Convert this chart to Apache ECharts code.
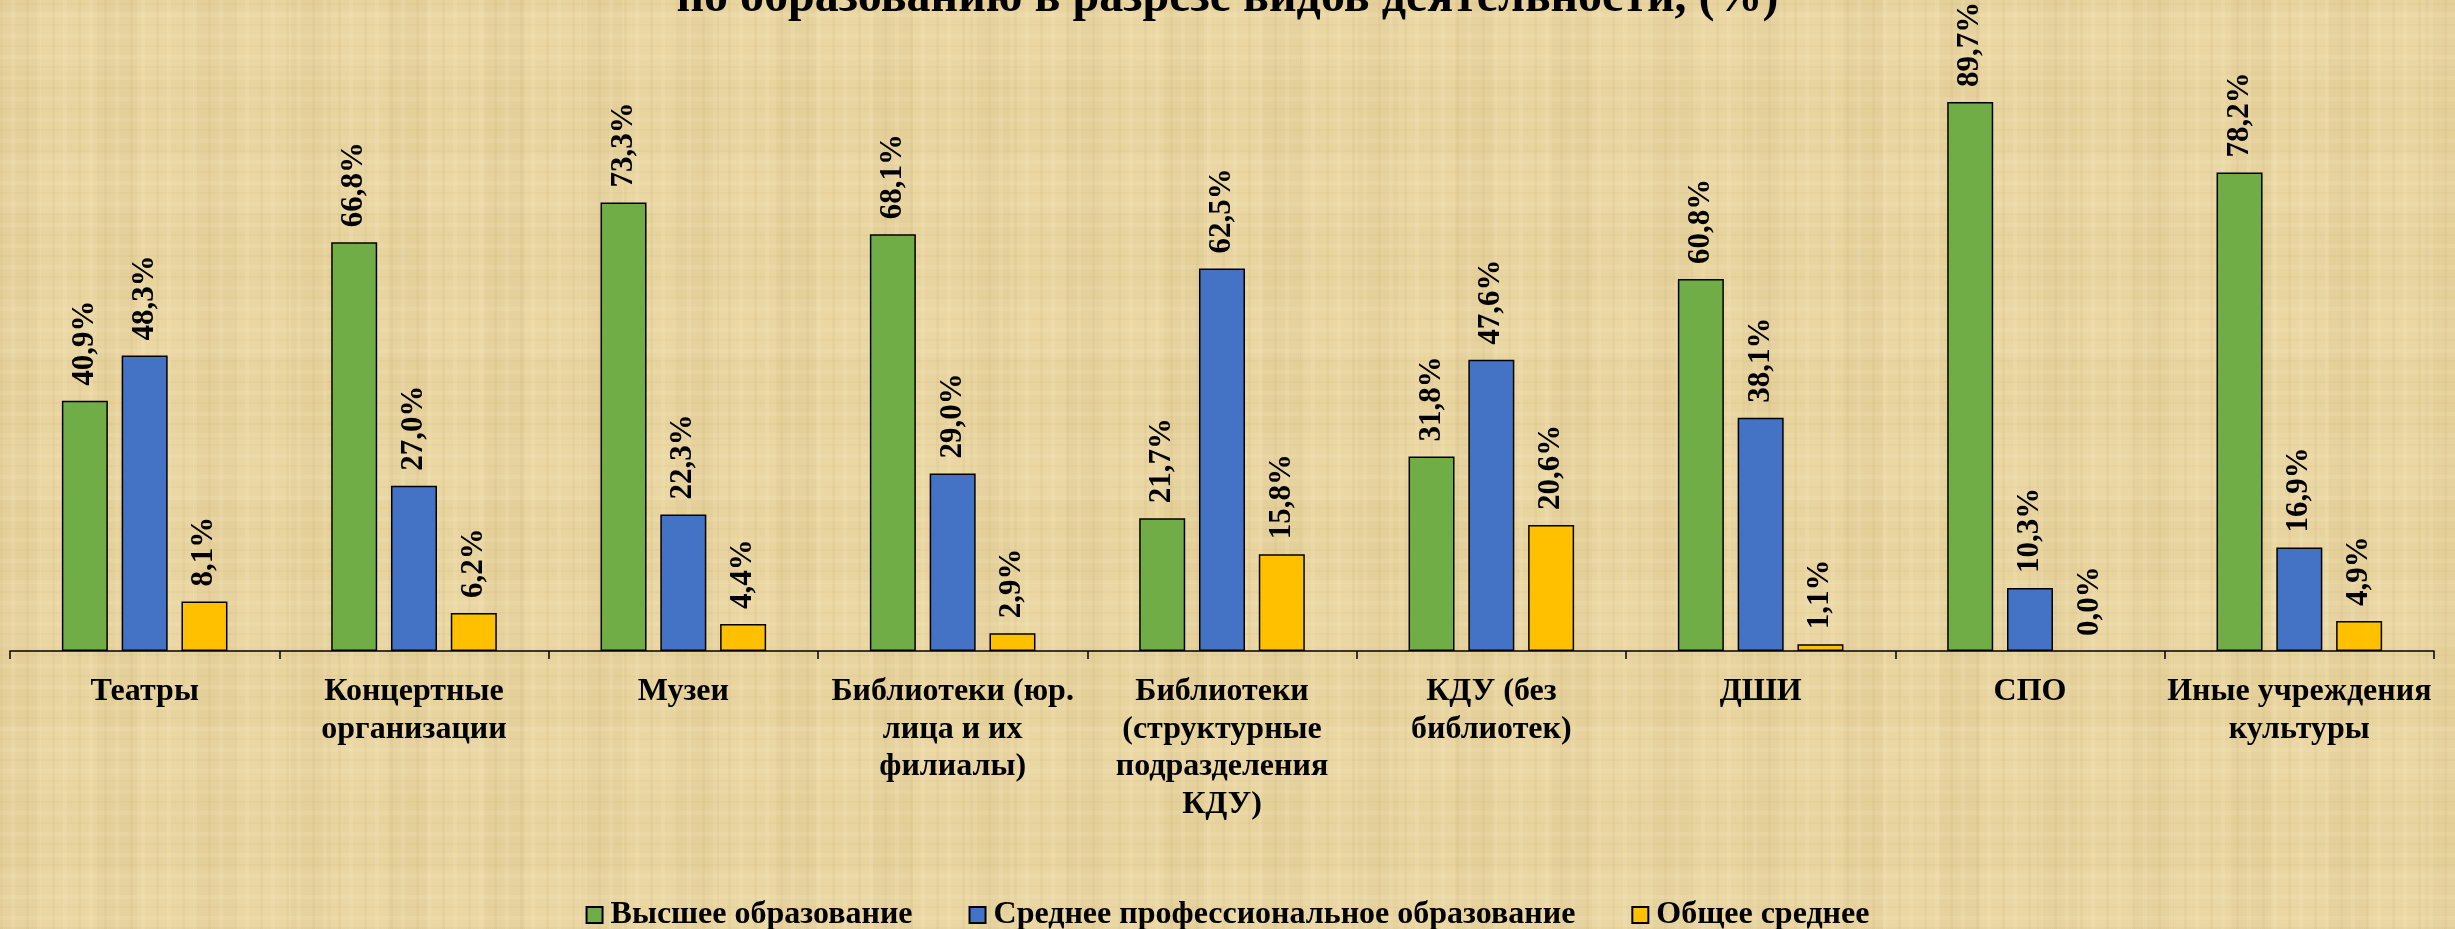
<!DOCTYPE html>
<html>
<head>
<meta charset="utf-8">
<script src="https://cdn.jsdelivr.net/npm/echarts@6/dist/echarts.min.js"></script>
<style>
html,body{margin:0;padding:0;}
#chart{
  width:2455px;height:929px;
  background-color:#E8D49F;
  background-image:
    repeating-linear-gradient(90deg, rgba(150,110,40,0.05) 0 3px, transparent 3px 11px, rgba(255,246,215,0.12) 11px 15px, transparent 15px 26px),
    repeating-linear-gradient(0deg, rgba(150,110,40,0.04) 0 2px, transparent 2px 9px, rgba(255,246,215,0.10) 9px 13px, transparent 13px 21px),
    repeating-linear-gradient(90deg, rgba(140,100,30,0.04) 0 40px, transparent 40px 97px),
    repeating-linear-gradient(0deg, rgba(255,246,215,0.08) 0 60px, transparent 60px 143px);
}
</style>
</head>
<body>
<div id="chart"></div>
<script>
const categories = [
  "Театры",
  "Концертные\nорганизации",
  "Музеи",
  "Библиотеки (юр.\nлица и их\nфилиалы)",
  "Библиотеки\n(структурные\nподразделения\nКДУ)",
  "КДУ (без\nбиблиотек)",
  "ДШИ",
  "СПО",
  "Иные учреждения\nкультуры"
];
const seriesNames = ["Высшее образование", "Среднее профессиональное образование", "Общее среднее"];
const higher = [40.9, 66.8, 73.3, 68.1, 21.7, 31.8, 60.8, 89.7, 78.2];
const vocational = [48.3, 27.0, 22.3, 29.0, 62.5, 47.6, 38.1, 10.3, 16.9];
const general = [8.1, 6.2, 4.4, 2.9, 15.8, 20.6, 1.1, 0.0, 4.9];
const titleText = "по образованию в разрезе видов деятельности, (%)";

const colors = ["#70AD47", "#4472C4", "#FFC000"];
const FONT = "'Liberation Serif','Times New Roman',serif";

function mk(name, data, color){
  return {
    name: name,
    type: 'bar',
    data: data.map(v => v === 0 ? {value: v, itemStyle: {borderWidth: 0}} : v),
    barWidth: 46,
    barGap: '30%',
    itemStyle: {color: color, borderColor: '#000', borderWidth: 1.5},
    label: {
      show: true,
      position: 'top',
      rotate: 90,
      align: 'left',
      verticalAlign: 'middle',
      distance: 15,
      fontFamily: FONT,
      fontWeight: 'bold',
      fontSize: 31,
      color: '#000',
      formatter: p => p.value.toFixed(1).replace('.', ',') + '%'
    }
  };
}

const chart = echarts.init(document.getElementById('chart'), null, {renderer: 'canvas'});
chart.setOption({
  backgroundColor: 'transparent',
  animation: false,
  graphic: [{
    type: 'text',
    left: 'center',
    top: -25,
    style: {
      text: titleText,
      fontFamily: FONT,
      fontWeight: 'bold',
      fontSize: 48,
      lineHeight: 48,
      fill: '#000'
    }
  }],
  legend: {
    data: seriesNames,
    left: 'center',
    top: 893,
    itemWidth: 16,
    itemHeight: 16,
    itemGap: 56,
    icon: 'rect',
    textStyle: {fontFamily: FONT, fontWeight: 'bold', fontSize: 32, lineHeight: 34, color: '#000', padding: [0,0,0,3]}
  },
  grid: {left: 10, right: 21, top: 39, bottom: 278, containLabel: false},
  xAxis: {
    type: 'category',
    data: categories,
    axisLine: {lineStyle: {color: '#000', width: 1.5}},
    axisTick: {show: true, length: 8, lineStyle: {color: '#000', width: 1.5}},
    axisLabel: {
      interval: 0,
      margin: 22,
      fontFamily: FONT,
      fontWeight: 'bold',
      fontSize: 32,
      lineHeight: 37.5,
      color: '#000',
      align: 'center'
    }
  },
  yAxis: {
    type: 'value',
    min: 0, max: 100,
    show: false,
    splitLine: {show: false}
  },
  series: [mk(seriesNames[0], higher, colors[0]), mk(seriesNames[1], vocational, colors[1]), mk(seriesNames[2], general, colors[2])]
});
</script>
</body>
</html>
